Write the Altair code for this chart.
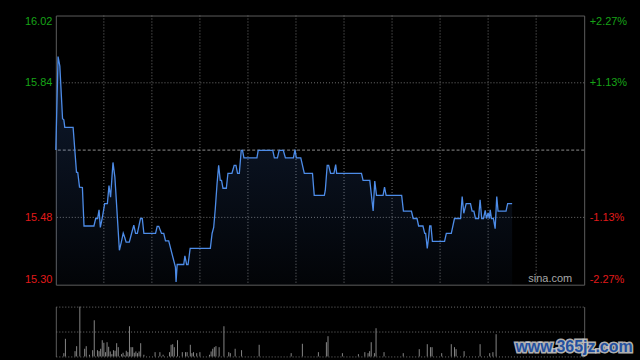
import altair as alt
import pandas as pd

# ---------------- data ----------------
# minutes since open (HK session: 330 trading minutes) and last price
price_min = [0.0, 1.4, 2.5, 4.2, 5.0, 5.6, 10.8, 12.9, 13.7, 14.8,
             16.6, 17.6, 23.8, 24.9, 26.1, 27.0, 27.8, 29.1, 30.5, 32.2,
             33.2, 34.2, 35.7, 36.9, 39.7, 40.9, 42.1, 43.0, 43.9, 45.9,
             47.3, 48.7, 49.8, 50.9, 52.9, 54.0, 55.0, 62.3, 63.3, 64.3,
             66.0, 67.4, 68.5, 70.5, 74.7, 75.1, 75.8, 79.9, 80.6, 81.7,
             82.6, 83.9, 96.5, 97.6, 98.6, 99.6, 100.7, 101.7, 102.7, 103.5,
             104.4, 106.5, 107.5, 110.0, 111.4, 112.5, 113.5, 114.6, 115.8, 116.6,
             117.5, 125.6, 126.4, 135.5, 136.5, 138.4, 139.5, 142.1, 143.4, 148.4,
             149.4, 150.2, 153.0, 155.2, 160.3, 161.4, 167.7, 168.3, 169.5, 170.4,
             171.6, 173.7, 174.8, 175.4, 190.9, 191.9, 196.1, 198.2, 199.2, 200.3,
             204.4, 205.3, 206.3, 216.0, 217.1, 222.1, 223.2, 225.6, 226.6, 229.3,
             230.4, 231.0, 232.0, 232.9, 233.5, 234.3, 235.2, 242.8, 243.9, 247.0,
             249.0, 252.8, 253.8, 254.8, 256.3, 259.0, 260.0, 261.1, 262.1, 264.0,
             265.0, 266.0, 267.1, 268.2, 269.0, 270.0, 270.8, 271.3, 272.1, 273.3,
             274.4, 275.4, 276.2, 281.2, 282.2, 285.0]
price = [15.66, 15.91, 15.885, 15.744, 15.741, 15.721, 15.721, 15.601, 15.60, 15.561,
         15.56, 15.457, 15.457, 15.477, 15.477, 15.50, 15.453, 15.481, 15.517, 15.517,
         15.565, 15.534, 15.627, 15.587, 15.392, 15.414, 15.438, 15.427, 15.414, 15.414,
         15.437, 15.459, 15.437, 15.437, 15.477, 15.477, 15.437, 15.437, 15.456, 15.456,
         15.437, 15.437, 15.417, 15.417, 15.347, 15.307, 15.354, 15.354, 15.377, 15.354,
         15.354, 15.397, 15.397, 15.437, 15.453, 15.503, 15.57, 15.619, 15.579, 15.579,
         15.558, 15.558, 15.598, 15.598, 15.619, 15.619, 15.598, 15.598, 15.659, 15.659,
         15.639, 15.639, 15.659, 15.659, 15.639, 15.639, 15.659, 15.659, 15.639, 15.639,
         15.661, 15.639, 15.639, 15.598, 15.598, 15.539, 15.539, 15.552, 15.619, 15.619,
         15.598, 15.598, 15.621, 15.598, 15.598, 15.579, 15.579, 15.497, 15.577, 15.539,
         15.539, 15.561, 15.539, 15.539, 15.497, 15.497, 15.477, 15.477, 15.457, 15.457,
         15.437, 15.437, 15.397, 15.429, 15.457, 15.457, 15.416, 15.416, 15.437, 15.437,
         15.477, 15.477, 15.536, 15.491, 15.517, 15.517, 15.497, 15.497, 15.477, 15.477,
         15.527, 15.477, 15.477, 15.499, 15.477, 15.492, 15.477, 15.50, 15.477, 15.477,
         15.45, 15.536, 15.497, 15.497, 15.517, 15.517]

vol_min = [5, 6, 12, 13, 15, 18, 19, 21, 23, 24,
           26, 27, 28, 29, 30, 31, 32, 33, 34, 35,
           36, 37, 38, 39, 41, 42, 43, 44, 45, 46,
           47, 48, 49, 50, 51, 52, 53, 55, 62, 65,
           67, 71, 72, 73, 74, 76, 79, 81, 82, 84,
           85, 86, 88, 90, 96, 97, 98, 99, 100, 102,
           105, 108, 109, 112, 116, 127, 147, 154, 164, 169,
           170, 179, 189, 193, 195, 196, 197, 199, 200, 205,
           217, 227, 232, 234, 235, 241, 247, 249, 250, 255,
           265, 271, 273, 275]
vol = [3.3, 17.7, 5.3, 10.3, 50, 7.7, 10.3, 1.7, 6.3, 36.3,
       6.3, 5.3, 7.7, 16.3, 13.7, 4.3, 14.3, 9.7, 5, 2.3,
       6.3, 5.7, 13.3, 9.3, 2.3, 3.7, 1, 5.7, 4.3, 30.3,
       9.3, 9.3, 3.7, 5, 3.3, 5, 13.3, 1.7, 4.3, 4.3,
       1.7, 4.3, 11.7, 12.3, 9.3, 16.3, 4.3, 4.3, 4.3, 11.7,
       3.3, 4.3, 3.3, 4.3, 1.7, 5, 7.7, 9.3, 10.3, 9.3,
       30.3, 4.3, 3.3, 7.7, 6.3, 11.7, 3.3, 12.7, 4.3, 14.3,
       20.3, 3.3, 2.3, 4.3, 3.3, 5.3, 14.3, 3.3, 28.3, 4.3,
       3.3, 7.3, 12.3, 9.3, 9.3, 3.3, 12.3, 9.3, 7.3, 5.3,
       12.3, 3.3, 4.3, 22.3]

PREV_CLOSE = 15.66
price_ticks = [16.02, 15.84, 15.48, 15.30]
pct_labels = ["+2.27%", "+1.13%", "-1.13%", "-2.27%"]
grid_prices = [15.84, 15.48]
session_grid = [30, 60, 90, 120, 150, 180, 210, 240, 270, 300]
session_ends = [0, 330]
watermark = ["sina.com"]
site_mark = ["www.365jz.com"]

# ---------------- style ----------------
FONT = "Liberation Sans"
UP = "#17a317"
DOWN = "#e21a1a"
GRID = "#707070"
BORDER = "#5c5c5c"
LINE = "#4d8ce8"

X_DOM = [0, 330]
Y_DOM = [15.30, 16.02]

price_df = pd.DataFrame({"t": price_min, "p": price})
vol_df = pd.DataFrame({"t": vol_min, "v": vol})

xs = alt.Scale(domain=X_DOM, nice=False, zero=False, padding=0)
ys = alt.Scale(domain=Y_DOM, nice=False, zero=False)
color_cond = {"condition": {"test": f"datum.value >= {PREV_CLOSE}", "value": UP}, "value": DOWN}

left_expr = "format(datum.value, '.2f')"
right_expr = "".join(
    f"abs(datum.value - {v}) < 0.005 ? '{l}' : " for v, l in zip(price_ticks, pct_labels)
) + "''"

vgrid = alt.Chart(pd.DataFrame({"t": session_grid})).mark_rule(
    color=GRID, strokeDash=[1, 2], strokeWidth=1
).encode(x=alt.X("t:Q", scale=xs, axis=None))

hgrid = alt.Chart(pd.DataFrame({"p": grid_prices})).mark_rule(
    color=GRID, strokeDash=[1, 2], strokeWidth=1
).encode(
    y=alt.Y("p:Q", scale=ys, axis=alt.Axis(
        orient="left", values=price_ticks, grid=False, ticks=False, domain=False,
        labelExpr=left_expr, labelColor=color_cond, labelFlush=True,
        labelPadding=4, labelFont=FONT, labelFontSize=11, title=None))
)

prev = alt.Chart(pd.DataFrame({"p": [PREV_CLOSE]})).mark_rule(
    color="#8c8c8c", strokeDash=[3, 2], strokeWidth=1
).encode(
    y=alt.Y("p:Q", scale=ys, axis=alt.Axis(
        orient="right", values=price_ticks, grid=False, ticks=False, domain=False,
        labelExpr=right_expr, labelColor=color_cond, labelFlush=True,
        labelPadding=5, labelFont=FONT, labelFontSize=11, title=None))
)

area = alt.Chart(price_df).mark_area(
    color=alt.Gradient(
        gradient="linear",
        stops=[alt.GradientStop(color="rgba(70,125,220,0.22)", offset=0),
               alt.GradientStop(color="rgba(70,125,220,0.03)", offset=1)],
        x1=0, x2=0, y1=0, y2=1)
).encode(
    x=alt.X("t:Q", scale=xs, axis=None),
    y=alt.Y("p:Q", scale=ys, axis=None),
    y2=alt.datum(Y_DOM[0]),
)

line = alt.Chart(price_df).mark_line(color=LINE, strokeWidth=1.3).encode(
    x=alt.X("t:Q", scale=xs, axis=None),
    y=alt.Y("p:Q", scale=ys, axis=None),
)

sina = alt.Chart(pd.DataFrame({"s": watermark})).mark_text(
    align="right", baseline="middle", font=FONT, fontSize=11, color="#a8a8a8"
).encode(x=alt.value(518), y=alt.value(264.5), text="s:N")

spacer_main = alt.Chart(pd.DataFrame({"s": [0]})).mark_rect(opacity=0).encode(
    x=alt.value(-55), x2=alt.value(585), y=alt.value(-14.5), y2=alt.value(270)
)

main = alt.layer(vgrid, hgrid, prev, area, line, sina, spacer_main).resolve_scale(
    y="independent"
).properties(width=530, height=270, view=alt.ViewBackground(stroke=BORDER, strokeWidth=1))

vmax = max(vol)
bars = alt.Chart(vol_df).mark_rule(strokeWidth=1, color="#858585").encode(
    x=alt.X("t:Q", scale=xs, axis=alt.Axis(
        values=session_ends, grid=True, gridColor=BORDER, gridDash=[], labels=False,
        ticks=False, domain=False, title=None)),
    y=alt.Y("v:Q", scale=alt.Scale(domain=[0, vmax], nice=False), axis=alt.Axis(
        values=[0, vmax / 2, vmax], grid=True, gridColor=GRID, gridDash=[1, 2],
        labels=False, ticks=False, domain=False, title=None)),
    y2=alt.datum(0),
)

site_bg = alt.Chart(pd.DataFrame({"s": site_mark})).mark_text(
    align="left", baseline="middle", font=FONT, fontSize=16, fontWeight="bold",
    color="#2a4f9c", stroke="#d0d0d0", strokeWidth=3, strokeOpacity=0.85
).encode(x=alt.value(461), y=alt.value(41), text="s:N")
site_fg = alt.Chart(pd.DataFrame({"s": site_mark})).mark_text(
    align="left", baseline="middle", font=FONT, fontSize=16, fontWeight="bold",
    color="#24509e"
).encode(x=alt.value(461), y=alt.value(41), text="s:N")

spacer_vol = alt.Chart(pd.DataFrame({"s": [0]})).mark_rect(opacity=0).encode(
    x=alt.value(-55), x2=alt.value(585), y=alt.value(0), y2=alt.value(55.5)
)

volume = alt.layer(bars, site_bg, site_fg, spacer_vol).properties(
    width=530, height=50, view=alt.ViewBackground(stroke=None)
)

chart = alt.vconcat(main, volume, spacing=20).properties(
    padding=0, background="#000000"
).configure_view(stroke=None)

chart.save("out.html", embed_options={"renderer": "svg", "actions": False})
